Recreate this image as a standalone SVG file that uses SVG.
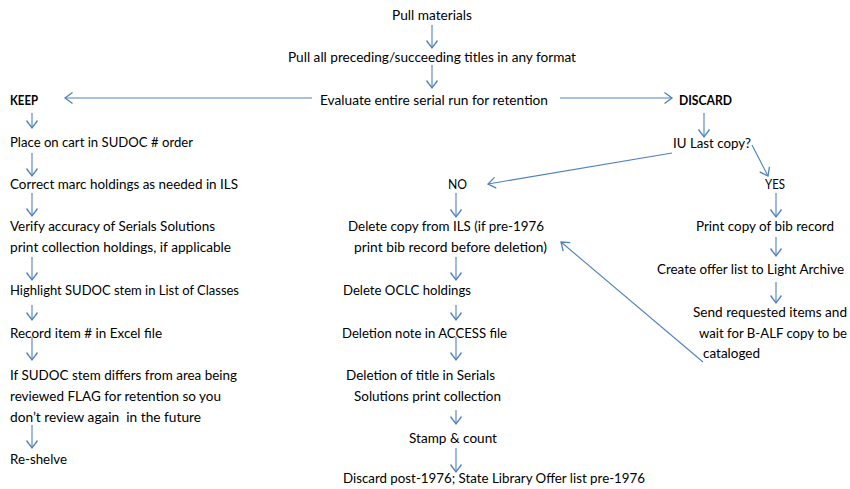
<svg xmlns="http://www.w3.org/2000/svg" width="850" height="489" viewBox="0 0 850 489">
<style>
text{font-family:Lato,"Open Sans","Liberation Sans",sans-serif;font-size:13.5px;fill:#000;white-space:pre}
.b{font-weight:bold}
.c line{stroke:#4F81BD;stroke-width:1.1;marker-end:url(#ah)}
</style>
<defs>
<marker id="ah" markerUnits="userSpaceOnUse" viewBox="-10 -8 12 16" markerWidth="12" markerHeight="16" refX="0" refY="0" orient="auto">
<path d="M-7.5,-5.5 L0,0 L-7.5,5.5" fill="none" stroke="#4F81BD" stroke-width="1.3"/>
</marker>
</defs>
<rect width="850" height="489" fill="#fff"/>
<g id="n1"><text x="392" y="20" textLength="80" lengthAdjust="spacingAndGlyphs">Pull materials</text></g>
<g id="n2"><text x="288" y="62" textLength="288" lengthAdjust="spacingAndGlyphs">Pull all preceding/succeeding titles in any format</text></g>
<g id="n3"><text x="320" y="105" textLength="228" lengthAdjust="spacingAndGlyphs">Evaluate entire serial run for retention</text></g>
<g id="keep"><text class="b" x="10" y="105" textLength="28" lengthAdjust="spacingAndGlyphs">KEEP</text></g>
<g id="discard"><text class="b" x="679" y="105" textLength="53" lengthAdjust="spacingAndGlyphs">DISCARD</text></g>
<g id="k1"><text x="10" y="147" textLength="183" lengthAdjust="spacingAndGlyphs">Place on cart in SUDOC # order</text></g>
<g id="k2"><text x="10" y="189" textLength="228" lengthAdjust="spacingAndGlyphs">Correct marc holdings as needed in ILS</text></g>
<g id="k3"><text x="10" y="231" textLength="205" lengthAdjust="spacingAndGlyphs">Verify accuracy of Serials Solutions</text><text x="10" y="252" textLength="221" lengthAdjust="spacingAndGlyphs">print collection holdings, if applicable</text></g>
<g id="k4"><text x="10" y="295" textLength="229" lengthAdjust="spacingAndGlyphs">Highlight SUDOC stem in List of Classes</text></g>
<g id="k5"><text x="10" y="338" textLength="152" lengthAdjust="spacingAndGlyphs">Record item # in Excel file</text></g>
<g id="k6"><text x="10" y="380" textLength="227" lengthAdjust="spacingAndGlyphs">If SUDOC stem differs from area being</text><text x="10" y="401" textLength="211" lengthAdjust="spacingAndGlyphs">reviewed FLAG for retention so you</text><text x="10" y="422" textLength="191" lengthAdjust="spacingAndGlyphs">don’t review again  in the future</text></g>
<g id="k7"><text x="10" y="464" textLength="57" lengthAdjust="spacingAndGlyphs">Re-shelve</text></g>
<g id="d1"><text x="673" y="148" textLength="78" lengthAdjust="spacingAndGlyphs">IU Last copy?</text></g>
<g id="no"><text x="448" y="189" textLength="19" lengthAdjust="spacingAndGlyphs">NO</text></g>
<g id="yes"><text x="765" y="189" textLength="20" lengthAdjust="spacingAndGlyphs">YES</text></g>
<g id="m1"><text x="348" y="231" textLength="196" lengthAdjust="spacingAndGlyphs">Delete copy from ILS (if pre-1976</text><text x="354" y="252" textLength="193" lengthAdjust="spacingAndGlyphs">print bib record before deletion)</text></g>
<g id="m2"><text x="343" y="295" textLength="128" lengthAdjust="spacingAndGlyphs">Delete OCLC holdings</text></g>
<g id="m3"><text x="342" y="338" textLength="165" lengthAdjust="spacingAndGlyphs">Deletion note in ACCESS file</text></g>
<g id="m4"><text x="346" y="380" textLength="149" lengthAdjust="spacingAndGlyphs">Deletion of title in Serials</text><text x="354" y="401" textLength="147" lengthAdjust="spacingAndGlyphs">Solutions print collection</text></g>
<g id="m5"><text x="409" y="443" textLength="88" lengthAdjust="spacingAndGlyphs">Stamp &amp; count</text></g>
<g id="m6"><text x="343" y="483" textLength="302" lengthAdjust="spacingAndGlyphs">Discard post-1976; State Library Offer list pre-1976</text></g>
<g id="y1"><text x="696" y="231" textLength="138" lengthAdjust="spacingAndGlyphs">Print copy of bib record</text></g>
<g id="y2"><text x="657" y="274" textLength="187" lengthAdjust="spacingAndGlyphs">Create offer list to Light Archive</text></g>
<g id="y3"><text x="693" y="317" textLength="154" lengthAdjust="spacingAndGlyphs">Send requested items and</text><text x="699" y="338" textLength="148" lengthAdjust="spacingAndGlyphs">wait for B-ALF copy to be</text><text x="703" y="358" textLength="57" lengthAdjust="spacingAndGlyphs">cataloged</text></g>
<g id="connectors" class="c">
<line x1="432" y1="25" x2="432" y2="48"/>
<line x1="432" y1="65" x2="432" y2="88"/>
<line x1="312" y1="98" x2="65" y2="98"/>
<line x1="560" y1="98" x2="672" y2="98"/>
<line x1="704" y1="113" x2="704" y2="137"/>
<line x1="672" y1="153" x2="488" y2="184"/>
<line x1="752" y1="145" x2="768" y2="176"/>
<line x1="456" y1="193" x2="456" y2="217"/>
<line x1="776" y1="193" x2="776" y2="217"/>
<line x1="776" y1="237" x2="776" y2="256"/>
<line x1="776" y1="282" x2="776" y2="303"/>
<line x1="703" y1="362" x2="561" y2="242"/>
<line x1="456" y1="257" x2="456" y2="280"/>
<line x1="456" y1="305" x2="456" y2="320"/>
<line x1="456" y1="337" x2="456" y2="360"/>
<line x1="456" y1="410" x2="456" y2="424"/>
<line x1="456" y1="448" x2="456" y2="472"/>
<line x1="32" y1="113" x2="32" y2="128"/>
<line x1="32" y1="153" x2="32" y2="176"/>
<line x1="32" y1="193" x2="32" y2="216"/>
<line x1="32" y1="257" x2="32" y2="280"/>
<line x1="32" y1="305" x2="32" y2="320"/>
<line x1="32" y1="337" x2="32" y2="360"/>
<line x1="32" y1="425" x2="32" y2="448"/>
</g>
</svg>
